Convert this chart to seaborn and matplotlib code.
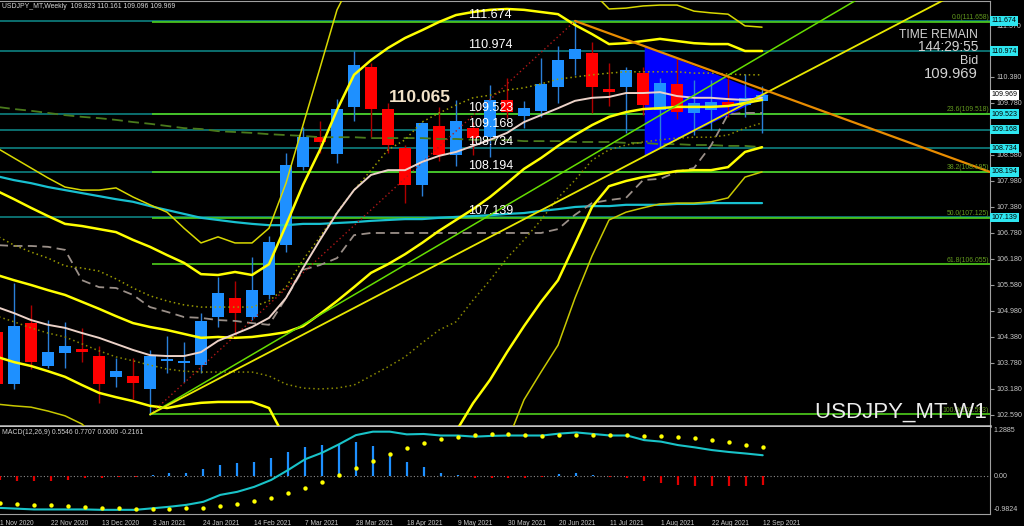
import numpy as np
import matplotlib
matplotlib.use("Agg")
import matplotlib.pyplot as plt
import seaborn as sns
from matplotlib import font_manager

# ---- weekly candles (first one is the half hidden week of 1 Nov 2020) ----
opens = [104.50, 103.30, 104.70, 103.72, 104.00, 104.10, 103.94, 103.45, 103.49, 103.18,
         103.83, 103.79, 103.74, 104.83, 105.29, 104.85, 105.35, 106.50, 108.30, 108.99,
         108.60, 109.69, 110.62, 109.64, 108.73, 107.89, 109.25, 108.58, 109.21, 109.00,
         109.85, 109.49, 109.60, 110.16, 110.79, 110.94, 110.10, 110.14, 110.48, 109.62,
         110.21, 109.56, 109.62, 109.81, 109.73, 109.823]
highs = [104.75, 105.62, 105.12, 104.77, 104.73, 104.58, 104.16, 103.89, 103.89, 104.08,
         104.40, 104.26, 104.93, 105.77, 105.68, 106.23, 106.70, 108.63, 109.23, 109.37,
         109.87, 110.97, 110.70, 109.78, 108.81, 109.35, 109.69, 109.85, 109.35, 110.20,
         110.35, 109.83, 110.81, 111.10, 111.674, 111.19, 110.70, 110.60, 110.62, 110.35,
         110.82, 110.31, 110.31, 110.46, 110.46, 110.161]
lows = [103.20, 103.17, 103.63, 103.66, 103.67, 103.81, 102.86, 103.22, 102.94, 102.59,
        103.54, 103.33, 103.54, 104.60, 104.45, 104.77, 105.25, 106.35, 108.23, 108.62,
        108.40, 109.37, 108.99, 108.62, 107.48, 107.63, 108.43, 108.33, 108.58, 108.54,
        109.43, 109.20, 109.46, 109.77, 110.43, 109.54, 109.71, 109.08, 109.50, 108.74,
        109.40, 109.05, 109.16, 109.46, 109.46, 109.096]
closes = [103.30, 104.64, 103.81, 104.04, 104.16, 104.03, 103.30, 103.60, 103.31, 103.95,
          103.87, 103.83, 104.75, 105.39, 104.94, 105.46, 106.58, 108.35, 109.00, 108.89,
          109.64, 110.66, 109.64, 108.81, 107.89, 109.31, 108.58, 109.37, 108.97, 109.85,
          109.58, 109.66, 110.22, 110.77, 111.02, 110.14, 110.04, 110.54, 109.73, 110.25,
          109.58, 109.79, 109.81, 109.73, 109.89, 109.969]

# ---- indicator lines ----
band_mid = [105.07, 104.93, 104.77, 104.66, 104.59, 104.47, 104.36, 104.22, 104.08, 103.96,
            103.94, 103.94, 104.03, 104.29, 104.45, 104.61, 104.82, 105.28, 105.97, 106.62,
            107.24, 107.77, 108.12, 108.23, 108.23, 108.42, 108.56, 108.65, 108.79, 108.93,
            109.09, 109.34, 109.50, 109.66, 109.83, 109.90, 109.92, 110.01, 110.01, 110.03,
            109.94, 109.90, 109.90, 109.87, 109.85, 109.90]
band_up2 = [107.75, 107.56, 107.36, 107.17, 106.99, 106.94, 106.87, 106.80, 106.62, 106.46,
            106.27, 106.09, 105.83, 105.81, 105.88, 105.81, 106.06, 106.96, 107.89, 108.70,
            109.62, 110.43, 110.77, 111.05, 111.28, 111.46, 111.65, 111.81, 111.88, 111.93,
            111.95, 111.93, 111.88, 111.83, 111.58, 111.37, 111.14, 111.16, 111.21, 111.26,
            111.21, 111.16, 111.14, 111.14, 110.98, 110.98]
band_up3 = [108.74, 108.51, 108.28, 108.05, 107.84, 107.77, 107.77, 107.82, 107.61, 107.43,
            107.26, 106.89, 106.55, 106.69, 106.55, 106.55, 106.89, 107.93, 109.27, 110.59,
            111.93, 112.70, 113.10, 113.30, 113.35, 113.30, 113.20, 113.10, 113.00, 112.90,
            112.85, 112.80, 112.75, 112.70, 112.60, 112.35, 111.95, 111.97, 112.02, 112.04,
            112.04, 111.90, 111.86, 111.83, 111.56, 111.53]
band_inner = [105.81, 105.69, 105.58, 105.46, 105.35, 105.19, 105.03, 104.86, 104.70, 104.61,
              104.54, 104.45, 104.36, 104.38, 104.36, 104.38, 104.43, 104.49, 104.63, 104.91,
              105.21, 105.53, 105.86, 106.06, 106.29, 106.55, 106.83, 107.08, 107.33, 107.61,
              107.93, 108.26, 108.51, 108.79, 109.04, 109.27, 109.46, 109.57, 109.64, 109.66,
              109.69, 109.69, 109.69, 109.71, 109.78, 109.85]
band_lo2 = [103.92, 103.80, 103.71, 103.59, 103.46, 103.27, 103.09, 102.99, 102.90, 102.79,
            102.74, 102.81, 102.86, 102.88, 102.88, 102.88, 102.74, 102.00, 101.40, 100.80,
            100.30, 99.90, 99.60, 99.50, 99.60, 99.90, 100.60, 102.20, 102.85, 103.39,
            104.03, 104.63, 105.19, 105.69, 106.53, 107.38, 107.86, 107.98, 108.07, 108.14,
            108.21, 108.23, 108.23, 108.30, 108.65, 108.76]
band_lo3 = [102.83, 102.79, 102.76, 102.67, 102.56, 102.37, 102.00, 101.60, 101.30, 101.00,
            100.80, 100.60, 100.40, 100.30, 100.30, 100.20, 100.00, 99.50, 98.80, 98.10,
            97.60, 97.20, 97.00, 96.90, 97.00, 97.30, 97.90, 98.80, 100.00, 101.00,
            101.95, 102.93, 103.57, 104.19, 105.28, 106.25, 107.08, 107.26, 107.36, 107.45,
            107.47, 107.47, 107.50, 107.59, 108.07, 108.19]
dots_upper = [106.71, 106.50, 106.34, 106.20, 106.02, 105.97, 105.90, 105.72, 105.51, 105.33,
              105.21, 105.12, 105.07, 105.07, 105.07, 105.07, 105.21, 105.53, 106.16, 106.69,
              107.26, 107.77, 108.23, 108.70, 108.93, 109.34, 109.55, 109.73, 109.90, 109.96,
              110.08, 110.13, 110.22, 110.33, 110.38, 110.43, 110.47, 110.50, 110.50, 110.50,
              110.50, 110.47, 110.47, 110.45, 110.43, 110.43]
dots_lower = [104.86, 104.73, 104.59, 104.47, 104.38, 104.22, 104.06, 103.92, 103.83, 103.73,
              103.64, 103.59, 103.57, 103.57, 103.57, 103.57, 103.48, 103.29, 103.20, 103.18,
              103.20, 103.27, 103.48, 103.69, 103.92, 104.24, 104.54, 104.73, 105.23, 105.69,
              106.20, 106.62, 107.08, 107.59, 108.00, 108.46, 108.70, 108.81, 108.88, 108.93,
              108.97, 108.99, 108.99, 109.04, 109.20, 109.32]
grey_steps = [106.50, 106.48, 106.48, 106.46, 106.39, 105.69, 105.53, 105.51, 105.35, 105.07,
              104.96, 104.84, 104.82, 104.77, 104.75, 104.70, 104.66, 105.28, 105.93, 106.04,
              106.20, 106.73, 106.78, 106.78, 106.78, 106.78, 106.78, 106.78, 106.78, 106.78,
              106.78, 106.78, 106.78, 106.87, 107.20, 107.47, 107.54, 107.59, 108.00, 108.03,
              108.19, 108.28, 108.80, 109.52, 109.55, 109.55]
cyan_ma = [108.09, 108.00, 107.93, 107.84, 107.77, 107.70, 107.63, 107.56, 107.50, 107.40,
           107.31, 107.22, 107.13, 107.08, 107.03, 106.99, 106.96, 106.96, 106.99, 106.99,
           107.01, 107.03, 107.06, 107.08, 107.10, 107.10, 107.13, 107.15, 107.17, 107.19,
           107.22, 107.24, 107.29, 107.33, 107.38, 107.40, 107.40, 107.43, 107.43, 107.43,
           107.45, 107.45, 107.47, 107.47, 107.47, 107.47]
olive_ma = [109.69, 109.64, 109.60, 109.55, 109.50, 109.46, 109.43, 109.39, 109.34, 109.30,
            109.25, 109.20, 109.18, 109.13, 109.11, 109.09, 109.06, 109.04, 109.02, 108.99,
            108.99, 108.99, 108.97, 108.97, 108.97, 108.97, 108.95, 108.95, 108.93, 108.93,
            108.93, 108.90, 108.90, 108.90, 108.88, 108.88, 108.88, 108.86, 108.86, 108.83,
            108.83, 108.81, 108.81, 108.79, 108.79, 108.76]

# ---- MACD(12,26,9) ----
macd_main = [-0.82, -0.84, -0.86, -0.86, -0.86, -0.86, -0.87, -0.87, -0.87, -0.83,
             -0.79, -0.74, -0.66, -0.48, -0.40, -0.27, -0.09, 0.17, 0.45, 0.62,
             0.84, 1.08, 1.17, 1.17, 1.10, 1.11, 1.07, 1.07, 1.04, 1.06,
             1.07, 1.07, 1.07, 1.12, 1.15, 1.11, 1.07, 1.07, 0.95, 0.91,
             0.82, 0.76, 0.69, 0.64, 0.60, 0.555]
macd_signal = [-0.70, -0.72, -0.74, -0.75, -0.78, -0.80, -0.82, -0.83, -0.84, -0.85,
               -0.85, -0.83, -0.81, -0.76, -0.72, -0.65, -0.57, -0.44, -0.31, -0.14,
               0.03, 0.22, 0.41, 0.59, 0.74, 0.87, 0.97, 1.04, 1.08, 1.11,
               1.10, 1.08, 1.07, 1.08, 1.08, 1.08, 1.08, 1.08, 1.07, 1.05,
               1.04, 1.00, 0.95, 0.89, 0.83, 0.77]
macd_hist = [-0.10, -0.11, -0.13, -0.11, -0.09, -0.03, -0.05, -0.02, -0.02, 0.04,
             0.09, 0.10, 0.19, 0.30, 0.35, 0.39, 0.48, 0.65, 0.78, 0.81,
             0.85, 0.89, 0.80, 0.61, 0.37, 0.26, 0.10, 0.04, -0.05, -0.03,
             -0.03, -0.04, -0.02, 0.06, 0.10, 0.05, -0.02, -0.05, -0.13, -0.16,
             -0.22, -0.24, -0.26, -0.26, -0.24, -0.2161]

# ---- drawn objects (bar index, price) ----
green_ray = ([8, 50], [102.59, 112.26])
yellow_ray = ([8, 55], [102.59, 112.22])
red_dotted = ([8, 33], [102.59, 111.674])
orange_line = ([33, 57.4], [111.674, 108.19])
triangle = ([37.1, 37.1, 44.4], [111.09, 108.55, 109.96])

level_prices = [111.674, 110.974, 109.523, 109.168, 108.734, 108.194, 107.139]
fib_pct = ["0.0", "23.6", "38.2", "50.0", "61.8", "100.0"]
fib_prices = [111.658, 109.518, 108.195, 107.125, 106.055, 102.593]
# 109.18 and 110.98 sit under the coloured price boxes, so they are left out
price_ticks = [102.59, 103.18, 103.78, 104.38, 104.98, 105.58, 106.18, 106.78, 107.38,
               107.98, 108.58, 109.78, 110.38, 111.57]
date_pos = [-1, 2, 5, 8, 11, 14, 17, 20, 23, 26, 29, 32, 35, 38, 41, 44]
date_labels = ["1 Nov 2020", "22 Nov 2020", "13 Dec 2020", "3 Jan 2021", "24 Jan 2021",
               "14 Feb 2021", "7 Mar 2021", "28 Mar 2021", "18 Apr 2021", "9 May 2021",
               "30 May 2021", "20 Jun 2021", "11 Jul 2021", "1 Aug 2021", "22 Aug 2021",
               "12 Sep 2021"]
bid = 109.969

sns.set_style("dark", {"axes.facecolor": "black", "figure.facecolor": "black",
                       "axes.grid": False})
names = {f.name for f in font_manager.fontManager.ttflist}
narrow = "Liberation Sans Narrow" in names
FONT = "Liberation Sans Narrow" if narrow else "Liberation Sans"
k = 1.0 if narrow else 0.82          # shrink plain Liberation to the narrow width
plt.rcParams["font.family"] = [FONT, "DejaVu Sans"]

GREY = "#c8c8c8"
idx = np.arange(-1, len(opens) - 1)
o, h, l, c = map(np.array, (opens, highs, lows, closes))

fig = plt.figure(figsize=(10.24, 5.26), dpi=100, facecolor="black")
ax = fig.add_axes([0, 1 - 426 / 526, 990 / 1024, 425 / 526])
ax2 = fig.add_axes([0, 1 - 514 / 526, 990 / 1024, 87 / 526])
for a in (ax, ax2):
    a.set_facecolor("black")
    a.set_xlim(-0.824, 57.41)
    for s in a.spines.values():
        s.set_visible(False)
ax.set_ylim(102.325, 112.134)
ax2.set_ylim(-0.979, 1.292)

# horizontal levels and drawn objects
ax.hlines(level_prices, -2, 60, colors="#0f8c8c", lw=1.1, zorder=1)
ax.hlines(fib_prices, 8.1, 60, colors="#4fcf1c", lw=1.2, zorder=1.2)
ax.fill(triangle[0], triangle[1], color="#0000ff", lw=0, zorder=1.5)

# candles
up = c >= o
for mask, body_col, wick_col in [(up, "#1e90ff", "#2a7fd8"), (~up, "#ff0000", "#b00000")]:
    ax.vlines(idx[mask], l[mask], h[mask], colors=wick_col, lw=1, zorder=3)
    ax.bar(idx[mask], np.maximum(np.abs(c - o), 0.04)[mask],
           bottom=np.minimum(o, c)[mask], width=0.76, color=body_col, lw=0, zorder=3.5)

# indicator lines
def line(vals, **kw):
    sns.lineplot(x=idx, y=vals, ax=ax, legend=False, errorbar=None, **kw)

line(olive_ma, color="#4a7a1c", lw=1.3, linestyle=(0, (6, 3)), zorder=4)
line(cyan_ma, color="#18c0d0", lw=1.6, zorder=4)
line(grey_steps, color="#9a8f88", lw=1.3, linestyle=(0, (5, 3)), zorder=4)
line(dots_upper, color="#9c9c00", lw=1.1, linestyle=(0, (1, 2)), zorder=4)
line(dots_lower, color="#8a8a00", lw=1.1, linestyle=(0, (1, 2)), zorder=4)
line(band_up3, color="#d8d800", lw=1.1, zorder=4)
line(band_lo3, color="#c8c800", lw=1.1, zorder=4)
line(band_up2, color="#ffff00", lw=1.8, zorder=4)
line(band_lo2, color="#ffff00", lw=1.8, zorder=4)
line(band_inner, color="#ffff00", lw=1.8, zorder=4)
line(band_mid, color="#ecd2c8", lw=1.4, zorder=4.2)

ax.plot(*red_dotted, color="#b01818", lw=1, linestyle=(0, (1, 2)), zorder=4)
ax.plot(*green_ray, color="#66dd00", lw=1.1, zorder=4.3)
ax.plot(*yellow_ray, color="#e8e800", lw=1.3, zorder=4.3)
ax.plot(*orange_line, color="#e88c00", lw=1.6, zorder=4.3)

# texts on the chart
for p in level_prices:
    ax.text(26.7, p, f"{p:.3f}", color="white", fontsize=11 * k, ha="left",
            va="bottom", zorder=6)
ax.text(22.05, 109.74, "110.065", color="#f2e2c8", fontsize=12.5,
        fontweight="bold", family=["Liberation Sans", "DejaVu Sans"], ha="left",
        va="bottom", zorder=6)

ytr = ax.get_yaxis_transform()
for pct, p in zip(fib_pct, fib_prices):
    ax.text(0.999, p + 0.02, f"{pct}({p:.3f})", transform=ytr, color="#62991e",
            fontsize=6 * k, ha="right", va="bottom", zorder=6)

# right price scale
ax.yaxis.tick_right()
ax.set_yticks(price_ticks)
ax.set_yticklabels([f"{t:.3f}" for t in price_ticks])
ax.tick_params(axis="y", colors="#9a9a9a", labelcolor=GREY, length=3, width=0.8,
               pad=2, labelsize=6.3 * k)
ax.tick_params(axis="x", bottom=False, labelbottom=False)
for p in level_prices:
    ax.text(1.0015, p, f"{p:.3f}", transform=ytr, color="black", fontsize=6.3 * k,
            ha="left", va="center", clip_on=False, zorder=10,
            bbox=dict(boxstyle="square,pad=0.18", fc="#2ee6f0", ec="none"))
ax.text(1.0015, bid, f"{bid:.3f}", transform=ytr, color="black", fontsize=6.3 * k,
        ha="left", va="center", clip_on=False, zorder=10,
        bbox=dict(boxstyle="square,pad=0.18", fc="white", ec="none"))

for sp in ("right", "top"):
    ax.spines[sp].set_visible(True)
    ax.spines[sp].set_color("#a0a0a0")
ax.spines["bottom"].set_visible(True)
ax.spines["bottom"].set_color("#c4c4c4")
ax.spines["bottom"].set_linewidth(1.8)

# MACD panel
hist = np.array(macd_hist)
ax2.axhline(0, color="#8c8c8c", lw=0.8, linestyle=(0, (1, 2)))
ax2.vlines(idx, 0, hist, colors=np.where(hist > 0, "#1e90ff", "#e00000"), lw=1.6, zorder=3)
sns.lineplot(x=idx, y=macd_main, ax=ax2, color="#19c3c8", lw=1.5, legend=False,
             errorbar=None, zorder=4)
sns.scatterplot(x=idx, y=macd_signal, ax=ax2, color="#ffff00", s=10, linewidth=0,
                legend=False, zorder=5)
ax2.set_yticks([])
ax2.set_xticks(date_pos)
ax2.set_xticklabels(date_labels)
ax2.tick_params(axis="x", colors="#9a9a9a", labelcolor=GREY, length=3, width=0.8,
                pad=1.5, labelsize=5.8 * k)
plt.setp(ax2.get_xticklabels(), ha="left")
ax2.set_xlabel("")
ax2.set_ylabel("")
ax.set_xlabel("")
ax.set_ylabel("")
for sp in ("right", "bottom"):
    ax2.spines[sp].set_visible(True)
    ax2.spines[sp].set_color("#a0a0a0")
ax2tr = ax2.get_yaxis_transform()
for val, txt in [(1.188, "1.2885"), (0.0, "0.00"), (-0.874, "-0.9824")]:
    ax2.text(1.004, val, txt, transform=ax2tr, color=GREY, fontsize=6.3 * k,
             ha="left", va="center", clip_on=False)

# header and overlay texts
fig.text(2 / 1024, 1 - 6 / 526, "USDJPY_MT,Weekly  109.823 110.161 109.096 109.969",
         color="#d8d8d8", fontsize=6 * k, ha="left", va="center")
fig.text(2 / 1024, 1 - 432.5 / 526, "MACD(12,26,9) 0.5546 0.7707 0.0000 -0.2161",
         color="#d0d0d0", fontsize=6 * k, ha="left", va="center")
right = 978 / 1024
fig.text(right, 1 - 35 / 526, "TIME REMAIN", color="#d4d4d4", fontsize=10.5 * k,
         ha="right", va="center")
fig.text(right, 1 - 47 / 526, "144:29:55", color="#d4d4d4", fontsize=12 * k,
         ha="right", va="center")
fig.text(right, 1 - 61 / 526, "Bid", color="#d4d4d4", fontsize=11 * k,
         ha="right", va="center")
fig.text(right, 1 - 73.5 / 526, f"{bid:.3f}", color="#d4d4d4", fontsize=13 * k,
         ha="right", va="center")
fig.text(987 / 1024, 1 - 412 / 526, "USDJPY_MT W1", color="#ececec", fontsize=19.5 * k,
         ha="right", va="center")

fig.savefig("out.png", dpi=100, facecolor="black")
